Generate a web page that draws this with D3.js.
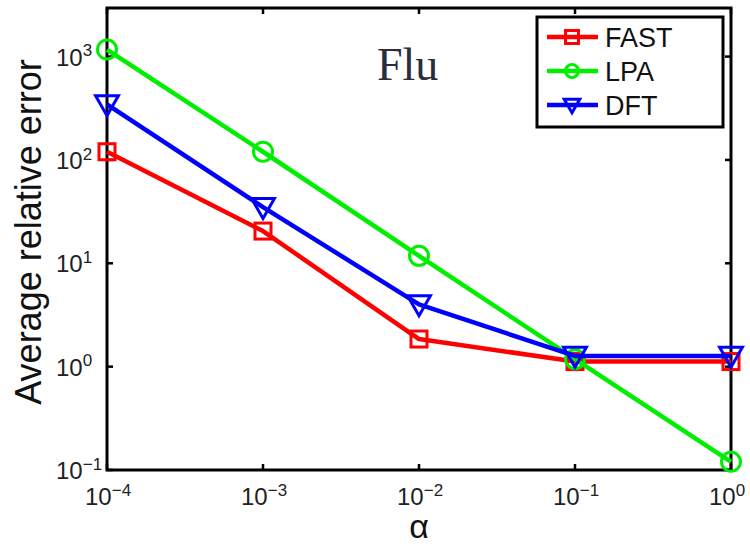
<!DOCTYPE html>
<html>
<head>
<meta charset="utf-8">
<script src="https://cdn.jsdelivr.net/npm/d3@7"></script>
<style>
body{margin:0;background:#fff;}
svg{display:block;}
</style>
</head>
<body>
<script>
// data
var alphas = [1e-4, 1e-3, 1e-2, 1e-1, 1];
var fastErr = [120, 20.5, 1.85, 1.12, 1.12];
var lpaErr = [1170, 120, 11.8, 1.18, 0.12];
var dftErr = [345, 35, 4.0, 1.27, 1.27];
var seriesNames = ["FAST", "LPA", "DFT"];
var seriesColors = ["#ff0000", "#00ee00", "#0000ff"];
var seriesMarks = ["square", "circle", "triangle"];
var xTickExp = [-4, -3, -2, -1, 0];
var yTickExp = [-1, 0, 1, 2, 3];

var width = 750, height = 544;
var margin = {left:107, right:19, top:8, bottom:74};
var w = width - margin.left - margin.right;
var h = height - margin.top - margin.bottom;

var svg = d3.select("body").append("svg")
    .attr("width", width)
    .attr("height", height);

var g = svg.append("g")
    .attr("transform", "translate(" + margin.left + "," + margin.top + ")");

var xScale = d3.scaleLog().domain([1e-4, 1]).range([0, w]);
var yScale = d3.scaleLog().domain([0.1, Math.pow(10, 3.47)]).range([h, 0]);

function powLabel(sel, exp){//10 with superscript
    sel.text(null);
    sel.append("tspan").text("10");
    sel.append("tspan").attr("dy", "-0.55em").attr("font-size", "17px")
        .text(exp < 0 ? "\u2212" + (-exp) : exp);
}

// ticks on all four sides
var tickLen = 6;
xTickExp.forEach(function(e){
    var x = xScale(Math.pow(10, e));
    g.append("line").attr("x1", x).attr("x2", x).attr("y1", h).attr("y2", h - tickLen)
        .attr("stroke", "#000").attr("stroke-width", 2.5);
    g.append("line").attr("x1", x).attr("x2", x).attr("y1", 0).attr("y2", tickLen)
        .attr("stroke", "#000").attr("stroke-width", 2.5);
    g.append("text").attr("x", x - 22).attr("y", h + 35)
        .attr("font-family", "Arial, 'Liberation Sans', sans-serif").attr("font-size", "24px")
        .attr("fill", "#222")
        .call(powLabel, e);
});
yTickExp.forEach(function(e){
    var y = yScale(Math.pow(10, e));
    g.append("line").attr("x1", 0).attr("x2", tickLen).attr("y1", y).attr("y2", y)
        .attr("stroke", "#000").attr("stroke-width", 2.5);
    g.append("line").attr("x1", w).attr("x2", w - tickLen).attr("y1", y).attr("y2", y)
        .attr("stroke", "#000").attr("stroke-width", 2.5);
    g.append("text").attr("x", -51).attr("y", y + 9)
        .attr("font-family", "Arial, 'Liberation Sans', sans-serif").attr("font-size", "24px")
        .attr("fill", "#222")
        .call(powLabel, e);
});

// box
g.append("rect").attr("x", 0).attr("y", 0).attr("width", w).attr("height", h)
    .attr("fill", "none").attr("stroke", "#000").attr("stroke-width", 3);

// axis titles
svg.append("text")
    .attr("transform", "translate(41,232) rotate(-90)")
    .attr("text-anchor", "middle")
    .attr("font-family", "Arial, 'Liberation Sans', sans-serif").attr("font-size", "36px")
    .attr("fill", "#111")
    .text("Average relative error");
svg.append("text")
    .attr("x", margin.left + xScale(1e-2)).attr("y", 538)
    .attr("text-anchor", "middle")
    .attr("font-family", "Arial, 'Liberation Sans', sans-serif").attr("font-size", "34px")
    .attr("fill", "#111")
    .text("\u03b1");

// title inside plot
svg.append("text").attr("x", 377).attr("y", 80)
    .attr("font-family", "'Liberation Serif', 'Times New Roman', serif").attr("font-size", "46px")
    .attr("fill", "#2a2d3a")
    .text("Flu");

function drawMarker(sel, type, color, size){
    if(type == "square"){
        sel.append("rect").attr("x", -size/2).attr("y", -size/2).attr("width", size).attr("height", size)
            .attr("fill", "none").attr("stroke", color).attr("stroke-width", 3);
    }
    else if(type == "circle"){
        sel.append("circle").attr("r", size/2)
            .attr("fill", "none").attr("stroke", color).attr("stroke-width", 3);
    }
    else{
        var s = size * 0.6;
        sel.append("path")
            .attr("d", "M" + (-s) + "," + (-s*0.75) + "L" + s + "," + (-s*0.75) + "L0," + (s*1.0) + "Z")
            .attr("fill", "none").attr("stroke", color).attr("stroke-width", 3);
    }
}

var allSeries = [fastErr, lpaErr, dftErr];
var line = d3.line()
    .x(function(d, i){ return xScale(alphas[i]); })
    .y(function(d){ return yScale(d); });

allSeries.forEach(function(vals, k){
    g.append("path").datum(vals)
        .attr("d", line)
        .attr("fill", "none").attr("stroke", seriesColors[k]).attr("stroke-width", 4.5)
        .attr("stroke-linejoin", "round");
    vals.forEach(function(v, i){
        var m = g.append("g")
            .attr("transform", "translate(" + xScale(alphas[i]) + "," + yScale(v) + ")");
        drawMarker(m, seriesMarks[k], seriesColors[k], k == 0 ? 16 : 19);
    });
});

// legend
var leg = svg.append("g").attr("transform", "translate(537,17)");
leg.append("rect").attr("width", 186).attr("height", 110)
    .attr("fill", "#fff").attr("stroke", "#000").attr("stroke-width", 3);
seriesNames.forEach(function(name, k){
    var y = 20 + k * 34;
    leg.append("line").attr("x1", 10).attr("x2", 61).attr("y1", y).attr("y2", y)
        .attr("stroke", seriesColors[k]).attr("stroke-width", 4.5);
    var m = leg.append("g").attr("transform", "translate(35," + y + ")");
    drawMarker(m, seriesMarks[k], seriesColors[k], 13);
    leg.append("text").attr("x", 68).attr("y", y + 10)
        .attr("font-family", "Arial, 'Liberation Sans', sans-serif").attr("font-size", "27px")
        .attr("fill", "#111")
        .text(name);
});
</script>
</body>
</html>
